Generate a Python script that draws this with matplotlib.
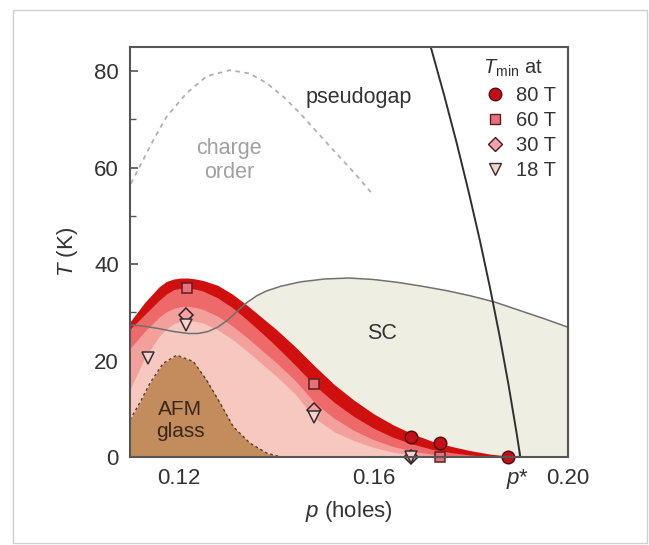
import numpy as np
import matplotlib
matplotlib.use('Agg')
import matplotlib.pyplot as plt
from matplotlib.lines import Line2D
from matplotlib.patches import Rectangle

plt.rcParams['font.family'] = ['Liberation Sans', 'DejaVu Sans']
plt.rcParams['mathtext.fontset'] = 'custom'
plt.rcParams['mathtext.rm'] = 'Liberation Sans'
plt.rcParams['mathtext.it'] = 'Liberation Sans:italic'

# T_min curves vs doping
p_grid = [0.110, 0.113, 0.116, 0.1175, 0.119, 0.1205, 0.122, 0.1235, 0.125, 0.128, 0.131, 0.134,
          0.137, 0.140, 0.144, 0.148, 0.152, 0.156, 0.160, 0.164, 0.168, 0.172, 0.176, 0.180,
          0.184, 0.188, 0.191]
t80 = [28.0, 32.0, 35.3, 36.4, 36.9, 37.1, 37.1, 36.9, 36.6, 35.6, 33.8, 31.5,
       29.0, 26.5, 22.8, 18.8, 15.0, 11.8, 9.0, 6.7, 4.8, 3.3, 2.2, 1.3,
       0.6, 0.15, 0.0]
t60 = [26.5, 29.5, 32.5, 33.8, 34.7, 35.0, 35.0, 34.8, 34.4, 33.0, 31.0, 28.5,
       25.8, 23.0, 19.0, 14.8, 11.3, 8.4, 6.0, 4.1, 2.7, 1.6, 0.9, 0.4,
       0.1, 0.0, 0.0]
t30 = [22.5, 26.0, 29.0, 30.1, 30.8, 31.2, 31.2, 31.0, 30.6, 29.2, 27.2, 24.8,
       22.2, 19.6, 15.8, 11.2, 8.0, 5.5, 3.6, 2.2, 1.2, 0.6, 0.2, 0.0,
       0.0, 0.0, 0.0]
t18 = [14.0, 20.5, 25.0, 26.6, 27.6, 28.2, 28.3, 28.1, 27.8, 26.4, 24.4, 22.0,
       19.4, 16.8, 13.0, 8.0, 5.2, 3.4, 2.0, 1.0, 0.4, 0.1, 0.0, 0.0,
       0.0, 0.0, 0.0]

# superconducting dome
p_sc = [0.110, 0.113, 0.116, 0.119, 0.122, 0.124, 0.126, 0.128, 0.130, 0.132, 0.134, 0.136,
        0.138, 0.141, 0.145, 0.150, 0.155, 0.160, 0.165, 0.170, 0.175, 0.180, 0.185, 0.190,
        0.195, 0.200]
t_sc = [27.4, 27.1, 26.6, 26.0, 25.6, 25.6, 26.0, 26.9, 28.3, 30.2, 32.0, 33.4,
        34.4, 35.4, 36.3, 36.9, 37.1, 36.8, 36.2, 35.4, 34.5, 33.4, 32.1, 30.4,
        28.7, 26.9]

# AFM glass
p_afm = [0.110, 0.112, 0.1141, 0.1168, 0.1196, 0.123, 0.1257, 0.1285, 0.1312, 0.1346, 0.1381, 0.141]
t_afm = [7.7, 11.2, 15.3, 19.4, 21.1, 19.8, 16.0, 11.2, 6.3, 2.9, 0.8, 0.0]

# charge order
p_co = [0.1102, 0.1148, 0.1175, 0.1216, 0.1257, 0.1305, 0.1346, 0.1381, 0.1415, 0.1449,
        0.1483, 0.1517, 0.1560, 0.1600]
t_co = [56.7, 65.7, 70.5, 75.4, 78.9, 80.2, 79.5, 77.5, 74.7, 71.3, 67.5, 63.7, 59.0, 54.3]

# pseudogap boundary
p_pg = [0.1718, 0.17455, 0.17715, 0.17958, 0.18187, 0.18399, 0.18596, 0.18777, 0.18943, 0.1902]
t_pg = [85, 75, 65, 55, 45, 35, 25, 15, 5, 0]

# data points
p_80, t_80pts = [0.1678, 0.1738, 0.1877], [4.1, 2.8, 0.0]
p_60, t_60pts = [0.1218, 0.1478, 0.1738], [35.0, 15.1, 0.0]
p_30, t_30pts = [0.1216, 0.1478, 0.1678], [29.4, 9.7, 0.0]
p_18, t_18pts = [0.1137, 0.1216, 0.1478, 0.1678], [20.5, 27.4, 8.3, 0.0]

fig = plt.figure(figsize=(6.49, 5.45), dpi=100)
fig.patches.append(Rectangle((12.5 / 649, 2 / 545), 634.5 / 649, 533.5 / 545, transform=fig.transFigure,
                             fill=False, edgecolor='#d0d0d0', lw=1.0))
ax = fig.add_axes([0.2003, 0.1615, 0.6749, 0.7523])

ax.fill_between(p_sc, 0, t_sc, color='#efeee2', lw=0, zorder=1)
ax.fill_between(p_grid, 0, t80, color='#d0100f', lw=0, zorder=2)
ax.fill_between(p_grid, 0, t60, color='#ee6a6a', lw=0, zorder=2)
ax.fill_between(p_grid, 0, t30, color='#f3a09c', lw=0, zorder=2)
ax.fill_between(p_grid, 0, t18, color='#f7c8c0', lw=0, zorder=2)
ax.fill_between(p_afm, 0, t_afm, color='#c38c5c', lw=0, zorder=3)
ax.plot(p_afm, t_afm, ls=(0, (2, 2)), color='#5a3c28', lw=1.0, zorder=3)

ax.plot(p_sc, t_sc, color='#707070', lw=1.1, zorder=4)
ax.plot(p_pg, t_pg, color='#303030', lw=1.4, zorder=4)
ax.plot(p_co, t_co, ls=(0, (2.5, 2.5)), color='#b0b0b0', lw=1.3, zorder=2)

mk = dict(ls='none', zorder=6, markeredgewidth=1.1, clip_on=False)
ax.plot(p_80, t_80pts, marker='o', ms=9, mfc='#c2101a', mec='#5a0a0a', **mk)
ax.plot(p_60, t_60pts, marker='s', ms=7, mfc='#e8707a', mec='#5a2020', **mk)
ax.plot(p_30, t_30pts, marker='D', ms=7, mfc='#f4a2a8', mec='#3a2020', **mk)
ax.plot(p_18, t_18pts, marker='v', ms=9, mfc='#f9d2d0', mec='#303030', **mk)

ax.text(0.157, 74.5, 'pseudogap', fontsize=15.5, color='#333333', ha='center', va='center')
ax.text(0.1303, 61.5, 'charge\norder', fontsize=15.5, color='#a0a0a0', ha='center', va='center',
        linespacing=1.2)
ax.text(0.1617, 25.6, 'SC', fontsize=15.5, color='#333333', ha='center', va='center')
ax.text(0.1203, 7.6, 'AFM\nglass', fontsize=15, color='#3a2818', ha='center', va='center',
        linespacing=1.2)
ax.annotate('$p$*', xy=(0.1897, 0), xytext=(0, -7), textcoords='offset points',
            ha='center', va='top', fontsize=16, color='#333333')

handles = [Line2D([], [], marker='o', ms=9, mfc='#c2101a', mec='#5a0a0a', ls='none'),
           Line2D([], [], marker='s', ms=7, mfc='#e8707a', mec='#5a2020', ls='none'),
           Line2D([], [], marker='D', ms=7, mfc='#f4a2a8', mec='#3a2020', ls='none'),
           Line2D([], [], marker='v', ms=9, mfc='#f9d2d0', mec='#303030', ls='none')]
leg = ax.legend(handles, ['80 T', '60 T', '30 T', '18 T'], loc='upper left',
                bbox_to_anchor=(0.806, 0.904), frameon=False, fontsize=14.5,
                handletextpad=0.45, labelspacing=0.3, borderaxespad=0, borderpad=0,
                handlelength=1.2)
for t in leg.get_texts():
    t.set_color('#333333')
ax.text(0.874, 0.947, '$T_{\\rm min}$ at', transform=ax.transAxes, fontsize=14.5,
        color='#333333', ha='center', va='center')

ax.set_xlim(0.11, 0.20)
ax.set_ylim(0, 85)
ax.set_xticks([0.12, 0.16, 0.20])
ax.set_xticklabels(['0.12', '0.16', '0.20'])
ax.set_xticks(np.arange(0.11, 0.2001, 0.01), minor=True)
ax.set_yticks([0, 20, 40, 60, 80])
ax.set_yticks([10, 30, 50, 70], minor=True)
ax.tick_params(which='both', direction='in', color='#555555', labelsize=16, labelcolor='#333333')
ax.tick_params(which='major', length=6, width=1.2, pad=8)
ax.tick_params(which='minor', length=4, width=1.0)
for s in ax.spines.values():
    s.set_color('#555555')
    s.set_linewidth(1.5)
    s.set_zorder(7)

ax.set_xlabel('$p$ (holes)', fontsize=16, color='#333333', labelpad=7)
ax.set_ylabel('$T$ (K)', fontsize=16, color='#333333', labelpad=10)

fig.savefig('out.png', dpi=100)
